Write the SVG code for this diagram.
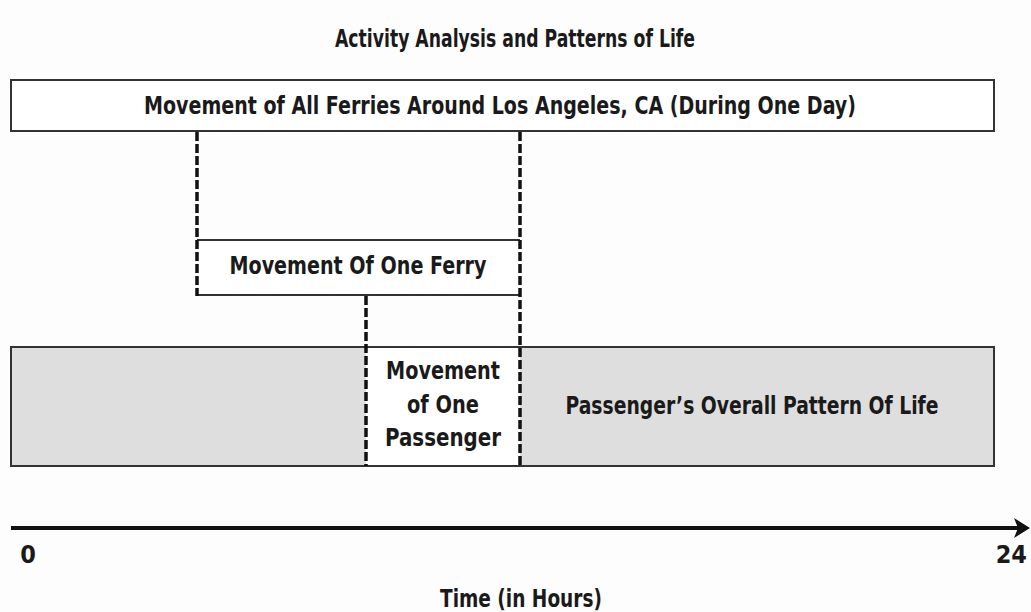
<svg xmlns="http://www.w3.org/2000/svg" width="1031" height="612" viewBox="0 0 1031 612">
<defs>
<style>
text{font-family:"Liberation Sans Narrow","DejaVu Sans Condensed","Liberation Sans",sans-serif;font-weight:bold;fill:#1a1a1a;text-anchor:middle;font-size:25px}
.box{fill:#fff;stroke:#333;stroke-width:2}
.band{fill:#dedede;stroke:#333;stroke-width:2}
.dash{stroke:#111;stroke-width:3.5;stroke-dasharray:9 3;fill:none}
.solid{stroke:#333;stroke-width:2;fill:none}
</style>
</defs>
<rect width="1031" height="612" fill="#fdfdfd"/>
<text id="title" x="515" y="47" font-size="26" textLength="360" lengthAdjust="spacingAndGlyphs">Activity Analysis and Patterns of Life</text>
<g id="all-ferries">
<rect class="box" x="11" y="80" width="983" height="51"/>
<text x="500" y="114" textLength="712" lengthAdjust="spacingAndGlyphs">Movement of All Ferries Around Los Angeles, CA (During One Day)</text>
</g>
<g id="pattern-of-life">
<rect class="band" x="11" y="347" width="983" height="119"/>
<text x="752" y="414" textLength="373" lengthAdjust="spacingAndGlyphs">Passenger’s Overall Pattern Of Life</text>
</g>
<g id="one-passenger">
<rect x="366" y="348" width="154" height="117" fill="#fff"/>
<text x="443" y="379" textLength="114" lengthAdjust="spacingAndGlyphs">Movement</text>
<text x="443" y="413" textLength="72" lengthAdjust="spacingAndGlyphs">of One</text>
<text x="443" y="446" textLength="116" lengthAdjust="spacingAndGlyphs">Passenger</text>
</g>
<g id="one-ferry">
<rect x="197" y="240" width="323" height="55" fill="#fff"/>
<line class="solid" x1="197" y1="240" x2="520" y2="240"/>
<line class="solid" x1="197" y1="295" x2="520" y2="295"/>
<text x="358" y="274" textLength="257" lengthAdjust="spacingAndGlyphs">Movement Of One Ferry</text>
</g>
<g id="connectors">
<line class="dash" x1="197" y1="132" x2="197" y2="296"/>
<line class="dash" x1="520" y1="132" x2="520" y2="466"/>
<line class="dash" x1="366" y1="296" x2="366" y2="466"/>
</g>
<g id="axis">
<line x1="11" y1="528" x2="1018" y2="528" stroke="#111" stroke-width="4"/>
<polygon points="1014,518 1030,528 1014,538 1018,528" fill="#111"/>
<text x="28" y="563" font-size="24">0</text>
<text x="1027" y="563" font-size="23" style="text-anchor:end">24</text>
<text x="521" y="607" textLength="162" lengthAdjust="spacingAndGlyphs">Time (in Hours)</text>
</g>
</svg>
